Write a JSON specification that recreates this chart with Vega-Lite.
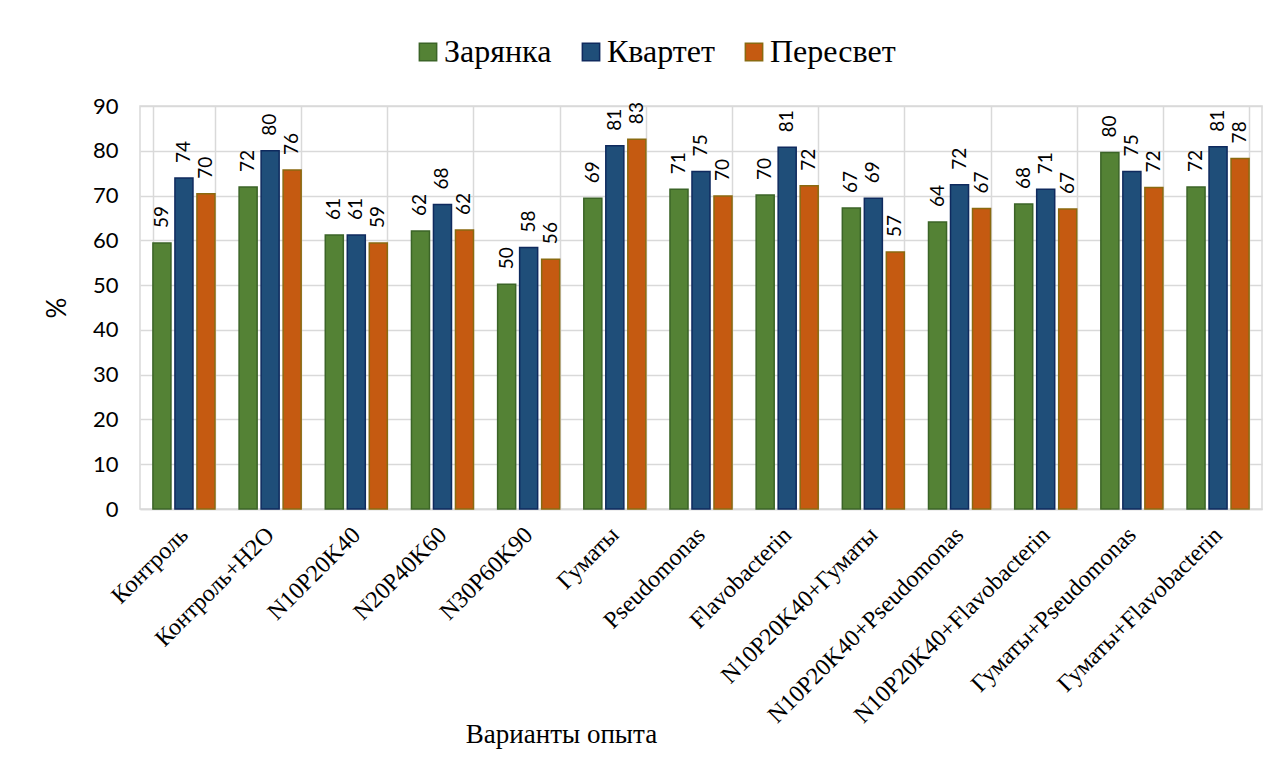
{
  "$schema": "https://vega.github.io/schema/vega-lite/v6.json",
  "autosize": {"type": "none"},
  "width": 1122,
  "height": 403,
  "padding": {"left": 140, "top": 106, "right": 22, "bottom": 251},
  "background": "white",
  "config": {"view": {"stroke": "#d9d9d9", "strokeWidth": 1.5}},
  "data": {"values": [
    {"variant": "Контроль", "sort": "Зарянка", "value": 59.4},
    {"variant": "Контроль", "sort": "Квартет", "value": 73.9},
    {"variant": "Контроль", "sort": "Пересвет", "value": 70.4},
    {"variant": "Контроль+H2O", "sort": "Зарянка", "value": 71.9},
    {"variant": "Контроль+H2O", "sort": "Квартет", "value": 80.0},
    {"variant": "Контроль+H2O", "sort": "Пересвет", "value": 75.7},
    {"variant": "N10P20K40", "sort": "Зарянка", "value": 61.2},
    {"variant": "N10P20K40", "sort": "Квартет", "value": 61.2},
    {"variant": "N10P20K40", "sort": "Пересвет", "value": 59.4},
    {"variant": "N20P40K60", "sort": "Зарянка", "value": 62.1},
    {"variant": "N20P40K60", "sort": "Квартет", "value": 68.0},
    {"variant": "N20P40K60", "sort": "Пересвет", "value": 62.3},
    {"variant": "N30P60K90", "sort": "Зарянка", "value": 50.2},
    {"variant": "N30P60K90", "sort": "Квартет", "value": 58.4},
    {"variant": "N30P60K90", "sort": "Пересвет", "value": 55.8},
    {"variant": "Гуматы", "sort": "Зарянка", "value": 69.4},
    {"variant": "Гуматы", "sort": "Квартет", "value": 81.1},
    {"variant": "Гуматы", "sort": "Пересвет", "value": 82.6},
    {"variant": "Pseudomonas", "sort": "Зарянка", "value": 71.4},
    {"variant": "Pseudomonas", "sort": "Квартет", "value": 75.4},
    {"variant": "Pseudomonas", "sort": "Пересвет", "value": 69.9},
    {"variant": "Flavobacterin", "sort": "Зарянка", "value": 70.1},
    {"variant": "Flavobacterin", "sort": "Квартет", "value": 80.8},
    {"variant": "Flavobacterin", "sort": "Пересвет", "value": 72.2},
    {"variant": "N10P20K40+Гуматы", "sort": "Зарянка", "value": 67.2},
    {"variant": "N10P20K40+Гуматы", "sort": "Квартет", "value": 69.4},
    {"variant": "N10P20K40+Гуматы", "sort": "Пересвет", "value": 57.4},
    {"variant": "N10P20K40+Pseudomonas", "sort": "Зарянка", "value": 64.1},
    {"variant": "N10P20K40+Pseudomonas", "sort": "Квартет", "value": 72.4},
    {"variant": "N10P20K40+Pseudomonas", "sort": "Пересвет", "value": 67.1},
    {"variant": "N10P20K40+Flavobacterin", "sort": "Зарянка", "value": 68.1},
    {"variant": "N10P20K40+Flavobacterin", "sort": "Квартет", "value": 71.4},
    {"variant": "N10P20K40+Flavobacterin", "sort": "Пересвет", "value": 67.0},
    {"variant": "Гуматы+Pseudomonas", "sort": "Зарянка", "value": 79.6},
    {"variant": "Гуматы+Pseudomonas", "sort": "Квартет", "value": 75.4},
    {"variant": "Гуматы+Pseudomonas", "sort": "Пересвет", "value": 71.8},
    {"variant": "Гуматы+Flavobacterin", "sort": "Зарянка", "value": 71.9},
    {"variant": "Гуматы+Flavobacterin", "sort": "Квартет", "value": 80.9},
    {"variant": "Гуматы+Flavobacterin", "sort": "Пересвет", "value": 78.3}
  ]},
  "encoding": {
    "x": {
      "field": "variant", "type": "nominal", "sort": null,
      "scale": {"paddingInner": 0.28, "paddingOuter": 0.15},
      "axis": {
        "title": "Варианты опыта",
        "titleFont": "Liberation Serif", "titleFontSize": 27, "titleFontWeight": "normal", "titleColor": "#000",
        "titleX": 421, "titleY": 233, "titleAlign": "center", "titleBaseline": "alphabetic",
        "labelAngle": -45, "labelFont": "Liberation Serif", "labelFontSize": 24, "labelColor": "#000",
        "labelAlign": "right", "labelBaseline": "middle", "labelPadding": 22, "labelLimit": 500,
        "ticks": false, "tickBand": "extent",
        "grid": true, "gridColor": "#d9d9d9", "gridWidth": 1.5,
        "domainColor": "#d9d9d9", "domainWidth": 1.5
      }
    },
    "xOffset": {
      "field": "sort", "type": "nominal", "sort": ["Зарянка", "Квартет", "Пересвет"],
      "scale": {"paddingInner": 0.18, "paddingOuter": 0}
    },
    "y": {
      "field": "value", "type": "quantitative",
      "scale": {"domain": [0, 90], "nice": false},
      "axis": {
        "title": "%", "titleFont": "Lato", "titleFontSize": 26, "titleFontWeight": "normal", "titleColor": "#000",
        "titlePadding": 22,
        "values": [0, 10, 20, 30, 40, 50, 60, 70, 80, 90],
        "labelFont": "Lato", "labelFontSize": 22, "labelColor": "#000", "labelPadding": 22,
        "ticks": false, "domain": false,
        "grid": true, "gridColor": "#d9d9d9", "gridWidth": 1.5
      }
    }
  },
  "layer": [
    {
      "mark": {"type": "bar", "strokeWidth": 1.5},
      "encoding": {
        "color": {
          "field": "sort", "type": "nominal",
          "scale": {"domain": ["Зарянка", "Квартет", "Пересвет"], "range": ["#548235", "#1f4e79", "#c55a11"]},
          "legend": {
            "title": null, "orient": "none", "direction": "horizontal",
            "legendX": 272, "legendY": -70,
            "symbolType": "square", "symbolSize": 300, "symbolStrokeWidth": 1.5,
            "labelFont": "Liberation Serif", "labelFontSize": 32, "labelColor": "#000",
            "labelOffset": 0, "columnPadding": 23, "labelLimit": 300
          }
        },
        "stroke": {
          "field": "sort", "type": "nominal",
          "scale": {"domain": ["Зарянка", "Квартет", "Пересвет"], "range": ["#3b6427", "#0f2a5e", "#8a6a10"]},
          "legend": {
            "title": null, "orient": "none", "direction": "horizontal",
            "legendX": 272, "legendY": -70,
            "symbolType": "square", "symbolSize": 300, "symbolStrokeWidth": 1.5,
            "labelFont": "Liberation Serif", "labelFontSize": 32, "labelColor": "#000",
            "labelOffset": 0, "columnPadding": 23, "labelLimit": 300
          }
        }
      }
    },
    {
      "mark": {"type": "text", "angle": -90, "align": "left", "baseline": "middle", "dx": 15, "font": "Lato", "fontSize": 19, "color": "#000"},
      "encoding": {
        "text": {"field": "value", "type": "quantitative", "format": ".0f"}
      }
    }
  ]
}
